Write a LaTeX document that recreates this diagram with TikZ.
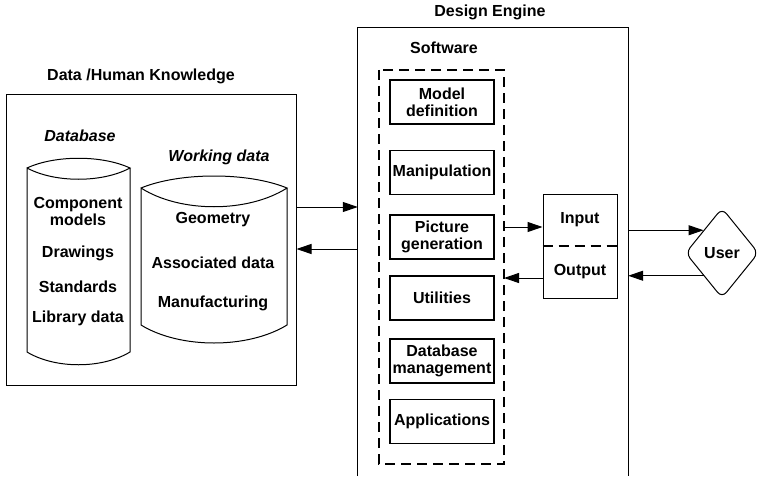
\documentclass[tikz,border=0pt]{standalone}
\usepackage{fontspec}
\setmainfont{Liberation Sans}
\usetikzlibrary{shapes.geometric,arrows.meta,calc}

\tikzset{
  frame/.style={draw, line width=1pt},
  modbox/.style={draw, line width=1.3pt, minimum width=104pt, minimum height=44pt, inner sep=0pt, align=center},
  dashline/.style={line width=2.4pt, dash pattern=on 10pt off 6pt},
  arr/.style={line width=1pt, -{Triangle[length=15pt,width=10pt]}}
}

\begin{document}
\begin{tikzpicture}[x=1pt,y=-1pt,font=\fontsize{16}{17}\selectfont\bfseries]
\useasboundingbox (0,0) rectangle (759,476);

% data / human knowledge
\node at (141,76) {Data /Human Knowledge};
\node[frame, inner sep=0pt, minimum width=290pt, minimum height=290pt] (know) at (151,240) {};

% database cylinder
\draw[frame] (27,168) .. controls (55,155) and (102,155) .. (130,168)
  .. controls (102,183) and (55,183) .. (27,168) -- (27,352)
  .. controls (55,369) and (102,369) .. (130,352) -- (130,168);
\node at (80,136) {\itshape Database};
\node[align=center] (comp) at (78,211) {Component\\models};
\node (draw) at (78,253) {Drawings};
\node (std) at (78,287) {Standards};
\node (lib) at (78,318) {Library data};

% working data cylinder
\draw[frame] (141,188) .. controls (180,172) and (248,172) .. (287,188)
  .. controls (248,213) and (180,213) .. (141,188) -- (141,325)
  .. controls (180,349) and (248,349) .. (287,325) -- (287,188);
\node at (219,157) {\itshape Working data};
\node (geo) at (213,220) {Geometry};
\node (assoc) at (213,263) {Associated data};
\node (manu) at (213,303) {Manufacturing};

% design engine
\node at (490,12) {Design Engine};
\node[inner sep=0pt, minimum width=270pt, minimum height=448pt] (engine) at (493,252) {};
\draw[frame] (engine.south west) -- (engine.north west) -- (engine.north east) -- (engine.south east);
\node at (444,48) {Software};
\draw[dashline] (379,70) rectangle (504,464);
\coordinate (swE) at (504,267);

% software modules
\node[modbox] (model) at (442,102) {Model\\definition};
\node[modbox] (manip) at (442,172.5) {Manipulation};
\node[modbox] (pict) at (442,237) {Picture\\generation};
\node[modbox] (util) at (442,298) {Utilities};
\node[modbox] (dbm) at (442,361) {Database\\management};
\node[modbox] (app) at (442,421.5) {Applications};

% input / output
\node[frame, inner sep=0pt, minimum width=74pt, minimum height=104pt] (io) at (580,246) {};
\draw[dashline] (io.west) -- (io.east);
\node (in) at (580,220) {Input};
\node (out) at (580,272) {Output};

% user
\node[draw, line width=1pt, diamond, rounded corners=7pt, inner sep=0pt, aspect=0.82,
  minimum width=73pt, minimum height=90pt] (user) at (722,253) {User};

% connectors
\coordinate (k1) at (0,207);
\coordinate (k2) at (0,249);
\coordinate (s1) at (0,227);
\coordinate (s2) at (0,278);
\coordinate (u1) at ($(user.west)!.5!(user.north)$);
\coordinate (u2) at ($(user.west)!.5!(user.south)$);
\draw[arr] (know.east |- k1) -- (engine.west |- k1);
\draw[arr] (engine.west |- k2) -- (know.east |- k2);
\draw[arr] (swE |- s1) -- (io.west |- s1);
\draw[arr] (io.west |- s2) -- (swE |- s2);
\draw[arr] (engine.east |- u1) -- (u1);
\draw[arr] (u2) -- (engine.east |- u2);
\end{tikzpicture}
\end{document}
